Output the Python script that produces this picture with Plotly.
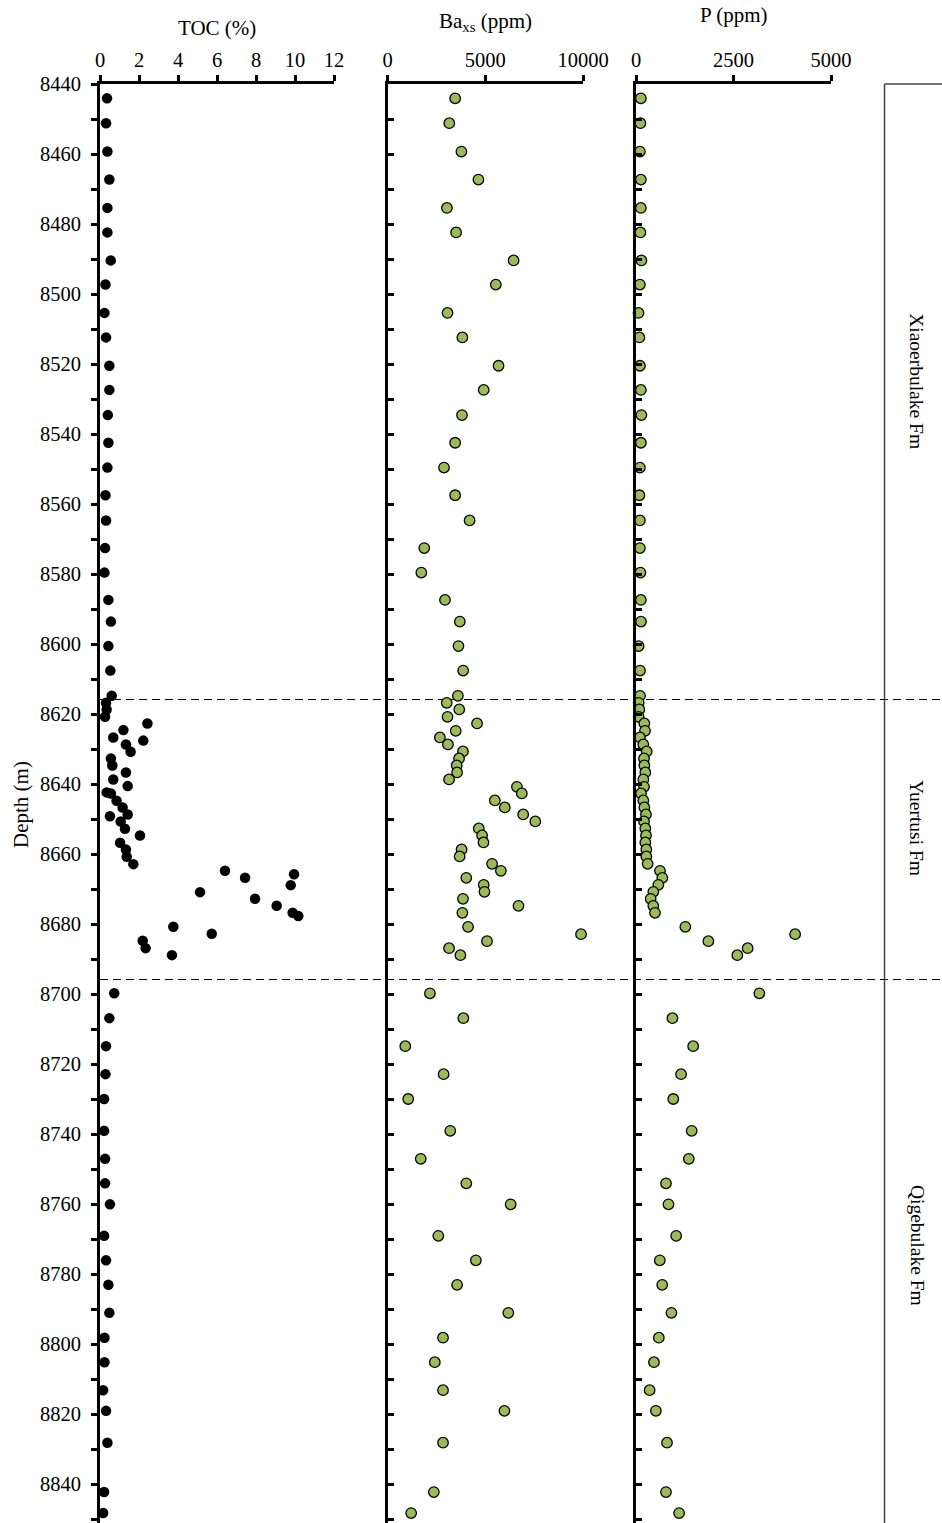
import plotly.graph_objects as go

# ---------------- data ----------------
depth_upper = [8444.1, 8451.2, 8459.3, 8467.3, 8475.4, 8482.4, 8490.4, 8497.3, 8505.4, 8512.4,
               8520.5, 8527.4, 8534.6, 8542.5, 8549.6, 8557.5, 8564.7, 8572.6, 8579.6, 8587.4,
               8593.6, 8600.6, 8607.6, 8614.8, 8616.8, 8618.7, 8620.8]
depth_mid_geo = [8622.7, 8624.8, 8626.7, 8628.7, 8630.7, 8632.7, 8634.7, 8636.7, 8638.7, 8640.8,
                 8642.7, 8644.7, 8646.7, 8648.7, 8650.7, 8652.7, 8654.7, 8656.7, 8658.7, 8660.7,
                 8662.8, 8664.8, 8666.8, 8668.8, 8670.8, 8672.8, 8674.8, 8676.8, 8680.8, 8682.9,
                 8684.9, 8686.9, 8688.9]
depth_mid_toc = [8622.7, 8624.6, 8626.7, 8627.6, 8628.7, 8630.8, 8632.7, 8634.7, 8636.7, 8638.7,
                 8640.6, 8642.4, 8642.7, 8644.8, 8646.7, 8648.7, 8649.2, 8650.7, 8652.8, 8654.7,
                 8656.8, 8658.7, 8660.8, 8662.9, 8664.8, 8665.8, 8666.8, 8668.9, 8670.9, 8672.8,
                 8674.8, 8676.8, 8677.7, 8680.8, 8682.8, 8684.8, 8686.9, 8688.9]
depth_lower = [8699.8, 8706.9, 8714.9, 8722.9, 8730.0, 8739.1, 8747.1, 8754.1, 8760.1, 8769.1,
               8776.1, 8783.1, 8791.1, 8798.2, 8805.2, 8813.2, 8819.1, 8828.2, 8842.3, 8848.3]

toc_upper = [0.36, 0.31, 0.38, 0.48, 0.38, 0.38, 0.55, 0.28, 0.23, 0.31, 0.48, 0.48, 0.40, 0.43,
             0.38, 0.28, 0.31, 0.26, 0.23, 0.43, 0.56, 0.43, 0.53, 0.60, 0.31, 0.34, 0.26]
toc_mid = [2.43, 1.20, 0.68, 2.22, 1.33, 1.57, 0.56, 0.63, 1.33, 0.68, 1.42, 0.34, 0.56, 0.85,
           1.16, 1.42, 0.51, 1.06, 1.28, 2.05, 1.03, 1.33, 1.37, 1.71, 6.41, 9.95, 7.44, 9.78,
           5.13, 7.95, 9.06, 9.88, 10.17, 3.76, 5.73, 2.19, 2.34, 3.69]
toc_lower = [0.73, 0.48, 0.31, 0.28, 0.21, 0.21, 0.26, 0.26, 0.51, 0.21, 0.31, 0.43, 0.48, 0.23,
             0.23, 0.16, 0.31, 0.38, 0.21, 0.16]

ba_upper = [3460, 3160, 3780, 4650, 3040, 3510, 6450, 5540, 3070, 3830, 5680, 4920, 3810, 3460,
            2890, 3460, 4200, 1880, 1730, 2940, 3700, 3630, 3870, 3600, 3030, 3670, 3070]
ba_mid = [4580, 3490, 2680, 3090, 3860, 3660, 3540, 3560, 3150, 6620, 6870, 5490, 6000, 6940,
          7560, 4670, 4840, 4910, 3790, 3690, 5350, 5800, 4030, 4920, 4960, 3860, 6700, 3830,
          4120, 9900, 5090, 3150, 3730]
ba_lower = [2170, 3880, 910, 2870, 1060, 3210, 1700, 4030, 6300, 2600, 4520, 3560, 6180, 2840,
            2420, 2840, 5980, 2840, 2370, 1210]

p_upper = [125, 113, 100, 125, 125, 113, 138, 100, 64, 87, 100, 125, 138, 125, 100, 87, 100, 100,
           113, 125, 128, 68, 103, 103, 68, 85, 68]
p_mid = [214, 231, 103, 188, 274, 205, 214, 239, 188, 205, 128, 188, 214, 256, 205, 239, 256, 239,
         265, 265, 299, 615, 675, 573, 444, 376, 444, 487, 1265, 4080, 1855, 2863, 2598]
p_lower = [3163, 934, 1466, 1156, 956, 1428, 1354, 769, 833, 1031, 610, 672, 908, 585, 461, 349,
           510, 795, 769, 1105]

boundaries = [8615.86, 8695.86]
formations = ["Xiaoerbulake Fm", "Yuertusi Fm", "Qigebulake Fm"]
formation_centers = [8524.9, 8652.6, 8771.7]

toc_ticks = [0, 2, 4, 6, 8, 10, 12]
ba_ticks = [0, 5000, 10000]
p_ticks = [0, 2500, 5000]
depth_ticks = list(range(8440, 8851, 10))
depth_text = [str(d) if d % 20 == 0 else "" for d in depth_ticks]

depth_toc = depth_upper + depth_mid_toc + depth_lower
depth_geo = depth_upper + depth_mid_geo + depth_lower
toc = toc_upper + toc_mid + toc_lower
ba = ba_upper + ba_mid + ba_lower
p = p_upper + p_mid + p_lower

# ---------------- figure ----------------
W, H = 942, 1523
TOP = 84
PX_PER_M = 3.5
y_top = 8440
y_bot = y_top + (H - TOP) / PX_PER_M

FONT = "Liberation Serif"
FS = 20.5
GREEN = "#9BBB59"

fig = go.Figure()
fig.add_trace(go.Scatter(x=toc, y=depth_toc, mode="markers", xaxis="x", yaxis="y",
                         marker=dict(size=10.5, color="black"), cliponaxis=False, showlegend=False))
fig.add_trace(go.Scatter(x=ba, y=depth_geo, mode="markers", xaxis="x2", yaxis="y2",
                         marker=dict(size=10.5, color=GREEN, line=dict(color="black", width=1.3)),
                         cliponaxis=False, showlegend=False))
fig.add_trace(go.Scatter(x=p, y=depth_geo, mode="markers", xaxis="x3", yaxis="y3",
                         marker=dict(size=10.5, color=GREEN, line=dict(color="black", width=1.3)),
                         cliponaxis=False, showlegend=False))

tickfont = dict(family=FONT, size=FS, color="black")

def xax(domain, rng, tv, anchor):
    return dict(domain=domain, range=rng, tickvals=tv, ticktext=[str(v) for v in tv],
                side="top", anchor=anchor,
                ticks="outside", ticklen=6, tickwidth=2.5, tickcolor="black",
                showline=True, linewidth=3, linecolor="black", showgrid=False, zeroline=False,
                tickfont=tickfont, automargin=False, fixedrange=True, ticklabelstandoff=0)

def yax(anchor, labels, ticks):
    return dict(domain=[0, 1], range=[y_bot, y_top], anchor=anchor, side="left",
                tickvals=depth_ticks, ticktext=depth_text, showticklabels=labels,
                ticks=ticks, ticklen=6, tickwidth=2.5, tickcolor="black",
                showline=True, linewidth=3, linecolor="black", showgrid=False, zeroline=False,
                tickfont=tickfont, automargin=False, ticklabelstandoff=6)

fig.update_layout(
    width=W, height=H,
    margin=dict(l=0, r=0, t=TOP, b=0, pad=0),
    paper_bgcolor="white", plot_bgcolor="white",
    template="none",
    xaxis=xax([100 / W, 334 / W], [0, 12], toc_ticks, "y"),
    yaxis=yax("x", True, "outside"),
    xaxis2=xax([387.5 / W, 583 / W], [0, 10000], ba_ticks, "y2"),
    yaxis2=yax("x2", False, "inside"),
    xaxis3=xax([636 / W, 831 / W], [0, 5000], p_ticks, "y3"),
    yaxis3=yax("x3", False, "inside"),
    showlegend=False,
)

# boundary dashed lines
for b in boundaries:
    fig.add_shape(type="line", xref="paper", yref="y", x0=100 / W, x1=1, y0=b, y1=b,
                  line=dict(color="black", width=1, dash="8px,5px"), layer="below")

# formation column box
fig.add_shape(type="line", xref="paper", yref="paper", x0=884.5 / W, x1=884.5 / W, y0=0, y1=1,
              line=dict(color="#444444", width=1.5))
fig.add_shape(type="line", xref="paper", yref="paper", x0=884.5 / W, x1=1.0, y0=1, y1=1,
              line=dict(color="#444444", width=1.5))

for name, c in zip(formations, formation_centers):
    fig.add_annotation(text=name, xref="paper", yref="y", x=917 / W, y=c, textangle=90,
                       showarrow=False, font=dict(family=FONT, size=19.5, color="black"),
                       xanchor="center", yanchor="middle")

# axis titles
titles = [("TOC (%)", 217, 56), ("Ba<sub>xs</sub> (ppm)", 485, 62), ("P (ppm)", 733, 69)]
for t, xc, ys in titles:
    fig.add_annotation(text=t, xref="paper", yref="paper", x=xc / W, y=1, yshift=ys,
                       showarrow=False, font=dict(family=FONT, size=21, color="black"),
                       xanchor="center", yanchor="middle")

fig.add_annotation(text="Depth (m)", xref="paper", yref="y", x=21 / W, y=8646.0, textangle=-90,
                   showarrow=False, font=dict(family=FONT, size=21, color="black"),
                   xanchor="center", yanchor="middle")

fig.write_html("out.html")
